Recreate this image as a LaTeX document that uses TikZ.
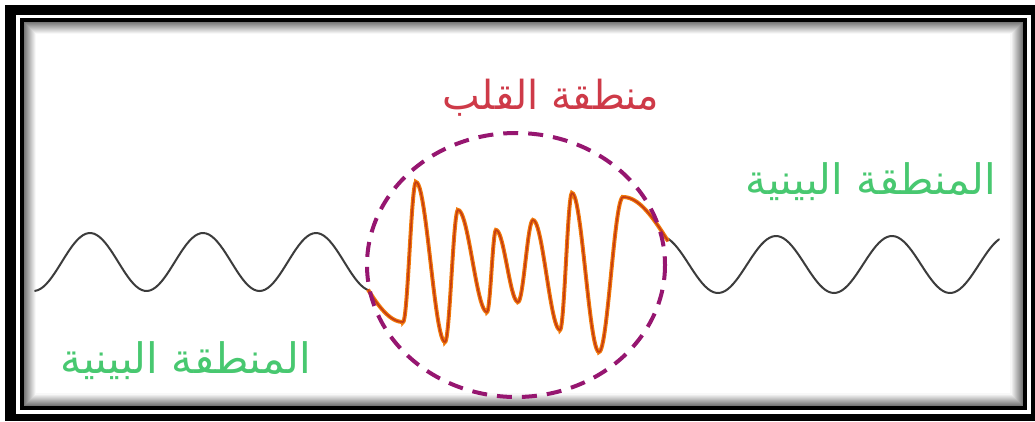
\documentclass[tikz,border=0pt]{standalone}
\usepackage{fontspec}
\usepackage{tikz}
\usetikzlibrary{calc}
\TeXXeTstate=1
\newfontfamily\arabicfont[Script=Arabic]{DejaVu Sans}
\definecolor{CoreRed}{RGB}{206,58,72}
\definecolor{ZoneGreen}{RGB}{72,200,112}
\definecolor{RingPurple}{RGB}{150,22,112}
\definecolor{WaveGray}{RGB}{60,60,60}
\definecolor{CoreOrange}{RGB}{240,120,10}
\definecolor{CoreLine}{RGB}{196,60,20}
\tikzset{
  wave/.style={draw=WaveGray,line width=2pt,line cap=round},
  corewave/.style={draw=CoreLine,line width=1.6pt,line cap=round,line join=round,
    preaction={draw=CoreOrange,line width=4pt}},
  corering/.style={draw=RingPurple,line width=4pt,dash pattern=on 15pt off 10pt},
  zonelabel/.style={font=\arabicfont\fontsize{42}{48}\selectfont,text=ZoneGreen,inner sep=0pt},
  corelabel/.style={font=\arabicfont\fontsize{40}{46}\selectfont,text=CoreRed,inner sep=0pt}
}

\begin{document}
\begin{tikzpicture}[x=1pt,y=-1pt]
\useasboundingbox (0,0) rectangle (1035,421);
\fill[black] (5,5) rectangle (1035,421);
\fill[white] (16,15) rectangle (1031,414);
\draw[line width=4pt] (22,20) rectangle (1024.5,407.5);
\fill[white] (24,22) rectangle (1022.5,405.5);
\foreach \k [evaluate=\k as \g using 58-4.6*\k] in {1,...,12}
  \draw[line width=1.1pt,black!\g] (23.5+\k,21.5+\k) rectangle (1023-\k,406-\k);

\draw[wave] plot[domain=35:369,samples=120] (\x,{262-29*cos(3.1858*(\x-90))});
\draw[wave] plot[domain=666:999,samples=120] (\x,{264.5+28.5*cos(3.1034*(\x-718))});

\draw[corewave] plot[domain=368:403,samples=20] (\x,{277.5-44.5*cos(180*(\x-318)/85)})
  \foreach \xa/\ya/\xb/\yb in {403/322/416/182, 416/182/445/342, 445/342/458/210,
    458/210/487/312, 487/312/496/230, 496/230/518/302, 518/302/533/220, 533/220/560/330,
    560/330/572/193, 572/193/599/352, 599/352/623/197}
  { -- plot[domain=\xa:\xb,samples=24] (\x,{(\ya+\yb)/2+(\ya-\yb)/2*cos(180*(\x-\xa)/(\xb-\xa))}) }
  -- plot[domain=623:668,samples=20] (\x,{245-48*cos(180*(\x-623)/95)});

\draw[corering] (516,265) ellipse [x radius=149, y radius=132];

\node[corelabel] (core) at (551,98) {\beginR منطقة القلب\endR};
\node[zonelabel] (zoneR) at (871,182) {\beginR المنطقة البينية\endR};
\node[zonelabel] (zoneL) at (186,361) {\beginR المنطقة البينية\endR};
\end{tikzpicture}
\end{document}
